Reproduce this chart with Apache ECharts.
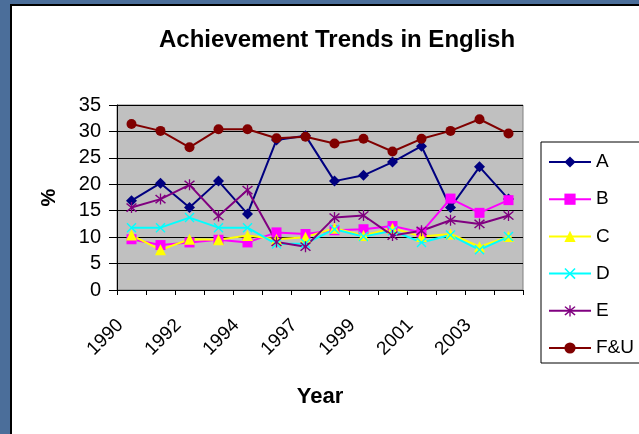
<!DOCTYPE html>
<html>
<head>
<meta charset="utf-8">
<script src="https://cdn.jsdelivr.net/npm/echarts@6/dist/echarts.min.js"></script>
<style>
html,body{margin:0;padding:0;background:#4b6e9a;}
#c{width:639px;height:434px;}
</style>
</head>
<body>
<div id="c"></div>
<script>
const years = ['1990','1991','1992','1993','1994','1996','1997','1998','1999','2000','2001','2002','2003','2004'];
const seriesA = [16.9, 20.2, 15.6, 20.6, 14.4, 28.4, 29.2, 20.6, 21.7, 24.2, 27.2, 15.6, 23.3, 17.2];
const seriesB = [9.6, 8.5, 9.0, 9.5, 9.0, 10.9, 10.6, 11.3, 11.5, 12.1, 10.9, 17.3, 14.6, 17.0];
const seriesC = [10.4, 7.6, 9.6, 9.5, 10.3, 9.6, 10.0, 11.7, 10.3, 11.7, 10.1, 10.6, 8.2, 10.1];
const seriesD = [11.8, 11.8, 13.7, 11.8, 11.8, 8.7, 8.8, 11.5, 10.1, 11.2, 9.0, 10.4, 7.6, 10.1];
const seriesE = [15.6, 17.2, 19.9, 14.0, 18.9, 9.1, 8.2, 13.7, 14.1, 10.3, 11.2, 13.2, 12.5, 14.1];
const seriesFU = [31.4, 30.1, 27.0, 30.4, 30.4, 28.7, 29.0, 27.7, 28.6, 26.2, 28.6, 30.1, 32.3, 29.6];
const yTicks = [0, 5, 10, 15, 20, 25, 30, 35];

const X_PATH = 'path://M0,1L1,0L5,4L9,0L10,1L6,5L10,9L9,10L5,6L1,10L0,9L4,5Z';
const STAR_PATH = 'path://M0,1L1,0L5,4L9,0L10,1L6,5L10,9L9,10L5,6L1,10L0,9L4,5Z M4.4,-1L5.6,-1L5.6,11L4.4,11Z';
const FONT = 'Liberation Sans, Arial, sans-serif';

function mk(name, data, color, symbol, size) {
  return {
    name: name, type: 'line', data: data, symbol: symbol, symbolSize: size,
    showAllSymbol: true,
    lineStyle: {color: color, width: 2},
    itemStyle: {color: color},
    emphasis: {disabled: true},
    z: 3
  };
}

const chart = echarts.init(document.getElementById('c'), null, {renderer: 'canvas'});
chart.setOption({
  backgroundColor: '#4b6e9a',
  animation: false,
  graphic: [{
    type: 'rect', z: -10, silent: true,
    shape: {x: 11, y: 5, width: 660, height: 460},
    style: {fill: '#ffffff', stroke: '#000000', lineWidth: 2}
  }],
  title: {
    text: 'Achievement Trends in English',
    left: 332, top: 23, textAlign: 'center',
    textStyle: {fontFamily: FONT, fontWeight: 'bold', fontSize: 24, color: '#000'}
  },
  grid: {
    left: 117, right: 116, top: 105, bottom: 144,
    show: true, backgroundColor: '#c0c0c0', borderColor: '#808080', borderWidth: 1
  },
  legend: {
    orient: 'vertical', left: 541, top: 142,
    itemWidth: 42, itemHeight: 14, itemGap: 18.2,
    padding: [10.5, 8, 5.5, 7],
    backgroundColor: '#ffffff', borderColor: '#000000', borderWidth: 1,
    textStyle: {fontFamily: FONT, fontSize: 19, color: '#000'},
    data: ['A','B','C','D','E','F&U']
  },
  xAxis: {
    type: 'category', data: years, boundaryGap: true,
    name: 'Year', nameLocation: 'middle', nameGap: 96,
    nameTextStyle: {fontFamily: FONT, fontWeight: 'bold', fontSize: 22, color: '#000'},
    axisLine: {lineStyle: {color: '#000', width: 1}},
    axisTick: {show: true, interval: 0, length: 5, lineStyle: {color: '#000'}},
    axisLabel: {interval: 1, rotate: 45, fontFamily: FONT, fontSize: 19, color: '#000', margin: 21,
      padding: [0, 16, 0, 0]},
    splitLine: {show: false}
  },
  yAxis: {
    type: 'value', min: 0, max: 35, interval: 5,
    name: '%', nameLocation: 'middle', nameRotate: 90, nameGap: 58,
    nameTextStyle: {fontFamily: FONT, fontWeight: 'bold', fontSize: 20, color: '#000'},
    axisLine: {show: true, lineStyle: {color: '#000', width: 1}},
    axisTick: {show: true, length: 8, lineStyle: {color: '#000'}},
    axisLabel: {fontFamily: FONT, fontSize: 20, color: '#000', margin: 16,
      formatter: function (v) { return yTicks.indexOf(v) >= 0 ? String(v) : ''; }},
    splitLine: {show: true, lineStyle: {color: '#000', width: 1}}
  },
  series: [
    mk('A', seriesA, '#000080', 'diamond', 11),
    mk('B', seriesB, '#ff00ff', 'rect', 10),
    mk('C', seriesC, '#ffff00', 'triangle', 11),
    mk('D', seriesD, '#00ffff', X_PATH, 10),
    mk('E', seriesE, '#800080', STAR_PATH, 11),
    mk('F&U', seriesFU, '#800000', 'circle', 10)
  ]
});
</script>
</body>
</html>
